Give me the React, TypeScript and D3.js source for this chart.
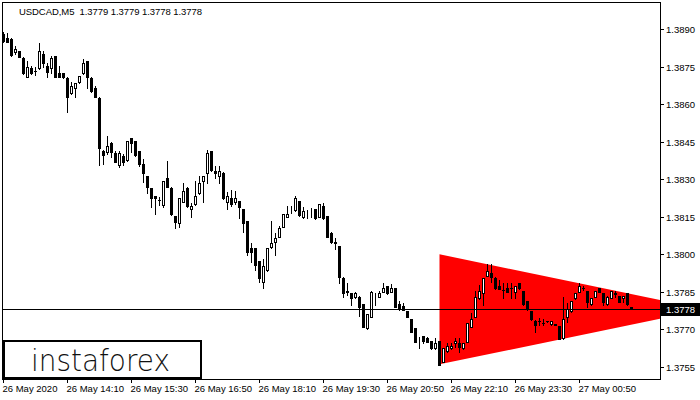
import React, { useEffect, useRef } from 'react';
import * as d3 from 'd3';

// USDCAD M5, 26 May 2020 12:50 onwards, one value per bar
const openPrices = [
  1.38881, 1.38865, 1.38863, 1.38811, 1.38813, 1.38787, 1.38711, 1.38747, 1.38733, 1.38744,
  1.38800, 1.38753, 1.38744, 1.38793, 1.38724, 1.38724, 1.38706, 1.38644, 1.38664, 1.38690,
  1.38724, 1.38773, 1.38706, 1.38666, 1.38626, 1.38413, 1.38410, 1.38446, 1.38404, 1.38357,
  1.38393, 1.38377, 1.38464, 1.38453, 1.38413, 1.38360, 1.38313, 1.38264, 1.38233, 1.38218,
  1.38197, 1.38306, 1.38266, 1.38153, 1.38124, 1.38210, 1.38266, 1.38180, 1.38200, 1.38244,
  1.38293, 1.38324, 1.38413, 1.38333, 1.38313, 1.38326, 1.38210, 1.38224, 1.38210, 1.38213,
  1.38180, 1.38133, 1.38024, 1.38025, 1.37973, 1.37890, 1.37937, 1.38030, 1.38050, 1.38070,
  1.38110, 1.38150, 1.38172, 1.38177, 1.38213, 1.38150, 1.38165, 1.38172, 1.38180, 1.38150,
  1.38193, 1.38153, 1.38086, 1.38048, 1.38033, 1.37906, 1.37852, 1.37844, 1.37830, 1.37830,
  1.37800, 1.37704, 1.37750, 1.37824, 1.37830, 1.37850, 1.37873, 1.37850, 1.37864, 1.37800,
  1.37793, 1.37773, 1.37740, 1.37704, 1.37664, 1.37673, 1.37664, 1.37653, 1.37624, 1.37653,
  1.37570, 1.37613, 1.37624, 1.37644, 1.37644, 1.37624, 1.37650, 1.37710, 1.37750, 1.37824,
  1.37844, 1.37913, 1.37926, 1.37906, 1.37873, 1.37858, 1.37866, 1.37865, 1.37850, 1.37884,
  1.37853, 1.37813, 1.37773, 1.37735, 1.37733, 1.37725, 1.37733, 1.37720, 1.37720, 1.37713,
  1.37664, 1.37750, 1.37772, 1.37824, 1.37850, 1.37865, 1.37853, 1.37800, 1.37830, 1.37865,
  1.37844, 1.37800, 1.37825, 1.37844, 1.37833, 1.37824, 1.37845, 1.37790,
];

const highPrices = [
  1.38889, 1.38885, 1.38865, 1.38833, 1.38815, 1.38789, 1.38773, 1.38753, 1.38751, 1.38844,
  1.38813, 1.38766, 1.38793, 1.38795, 1.38753, 1.38725, 1.38709, 1.38690, 1.38685, 1.38715,
  1.38780, 1.38775, 1.38709, 1.38673, 1.38629, 1.38417, 1.38473, 1.38449, 1.38413, 1.38413,
  1.38400, 1.38455, 1.38466, 1.38455, 1.38415, 1.38380, 1.38315, 1.38265, 1.38235, 1.38230,
  1.38295, 1.38373, 1.38269, 1.38155, 1.38225, 1.38286, 1.38269, 1.38206, 1.38293, 1.38313,
  1.38315, 1.38417, 1.38415, 1.38353, 1.38353, 1.38329, 1.38250, 1.38257, 1.38253, 1.38215,
  1.38181, 1.38135, 1.38044, 1.38027, 1.37975, 1.37980, 1.38025, 1.38133, 1.38085, 1.38113,
  1.38161, 1.38193, 1.38193, 1.38233, 1.38215, 1.38190, 1.38177, 1.38185, 1.38181, 1.38201,
  1.38204, 1.38155, 1.38089, 1.38064, 1.38035, 1.37909, 1.37884, 1.37845, 1.37850, 1.37833,
  1.37801, 1.37761, 1.37853, 1.37844, 1.37853, 1.37884, 1.37875, 1.37880, 1.37865, 1.37813,
  1.37806, 1.37775, 1.37741, 1.37705, 1.37670, 1.37675, 1.37670, 1.37655, 1.37666, 1.37655,
  1.37625, 1.37646, 1.37644, 1.37664, 1.37664, 1.37645, 1.37725, 1.37764, 1.37853, 1.37877,
  1.37905, 1.37960, 1.37960, 1.37908, 1.37897, 1.37884, 1.37886, 1.37886, 1.37875, 1.37885,
  1.37855, 1.37815, 1.37775, 1.37737, 1.37744, 1.37740, 1.37735, 1.37734, 1.37721, 1.37715,
  1.37829, 1.37804, 1.37815, 1.37845, 1.37884, 1.37873, 1.37855, 1.37825, 1.37855, 1.37867,
  1.37845, 1.37832, 1.37855, 1.37853, 1.37835, 1.37834, 1.37846, 1.37790,
];

const lowPrices = [
  1.38849, 1.38849, 1.38793, 1.38801, 1.38789, 1.38723, 1.38709, 1.38723, 1.38717, 1.38743,
  1.38750, 1.38710, 1.38724, 1.38709, 1.38709, 1.38704, 1.38570, 1.38641, 1.38630, 1.38687,
  1.38721, 1.38664, 1.38651, 1.38629, 1.38357, 1.38360, 1.38400, 1.38390, 1.38369, 1.38350,
  1.38357, 1.38375, 1.38410, 1.38395, 1.38353, 1.38290, 1.38244, 1.38190, 1.38160, 1.38197,
  1.38189, 1.38269, 1.38157, 1.38104, 1.38110, 1.38209, 1.38191, 1.38150, 1.38197, 1.38241,
  1.38210, 1.38284, 1.38335, 1.38306, 1.38284, 1.38221, 1.38180, 1.38193, 1.38200, 1.38144,
  1.38090, 1.37997, 1.37970, 1.37939, 1.37890, 1.37864, 1.37935, 1.38025, 1.37998, 1.38069,
  1.38109, 1.38149, 1.38167, 1.38175, 1.38155, 1.38144, 1.38144, 1.38150, 1.38142, 1.38149,
  1.38142, 1.38069, 1.38044, 1.38021, 1.37884, 1.37830, 1.37837, 1.37797, 1.37824, 1.37753,
  1.37709, 1.37702, 1.37749, 1.37797, 1.37829, 1.37849, 1.37842, 1.37849, 1.37789, 1.37777,
  1.37776, 1.37749, 1.37689, 1.37649, 1.37624, 1.37646, 1.37649, 1.37622, 1.37622, 1.37556,
  1.37569, 1.37611, 1.37622, 1.37630, 1.37610, 1.37622, 1.37649, 1.37709, 1.37749, 1.37822,
  1.37797, 1.37912, 1.37890, 1.37862, 1.37860, 1.37824, 1.37849, 1.37824, 1.37824, 1.37862,
  1.37798, 1.37778, 1.37738, 1.37690, 1.37717, 1.37717, 1.37730, 1.37718, 1.37717, 1.37661,
  1.37662, 1.37729, 1.37770, 1.37822, 1.37849, 1.37857, 1.37790, 1.37798, 1.37829, 1.37849,
  1.37797, 1.37798, 1.37824, 1.37830, 1.37809, 1.37810, 1.37798, 1.37780,
];

const closePrices = [
  1.38853, 1.38851, 1.38797, 1.38823, 1.38791, 1.38724, 1.38749, 1.38725, 1.38732, 1.38813,
  1.38764, 1.38730, 1.38786, 1.38710, 1.38710, 1.38710, 1.38630, 1.38673, 1.38684, 1.38713,
  1.38766, 1.38710, 1.38653, 1.38630, 1.38424, 1.38397, 1.38433, 1.38410, 1.38370, 1.38404,
  1.38370, 1.38453, 1.38444, 1.38397, 1.38360, 1.38324, 1.38269, 1.38224, 1.38224, 1.38216,
  1.38293, 1.38270, 1.38160, 1.38130, 1.38224, 1.38253, 1.38193, 1.38193, 1.38233, 1.38286,
  1.38313, 1.38404, 1.38337, 1.38324, 1.38333, 1.38224, 1.38233, 1.38200, 1.38224, 1.38190,
  1.38124, 1.38010, 1.38010, 1.37957, 1.37904, 1.37953, 1.38024, 1.38044, 1.38064, 1.38104,
  1.38160, 1.38160, 1.38173, 1.38224, 1.38157, 1.38173, 1.38166, 1.38173, 1.38144, 1.38200,
  1.38144, 1.38070, 1.38050, 1.38046, 1.37910, 1.37844, 1.37850, 1.37824, 1.37844, 1.37790,
  1.37710, 1.37760, 1.37850, 1.37825, 1.37844, 1.37864, 1.37844, 1.37864, 1.37790, 1.37786,
  1.37777, 1.37750, 1.37690, 1.37650, 1.37665, 1.37653, 1.37650, 1.37624, 1.37644, 1.37557,
  1.37624, 1.37633, 1.37633, 1.37653, 1.37630, 1.37644, 1.37724, 1.37740, 1.37830, 1.37853,
  1.37904, 1.37933, 1.37910, 1.37864, 1.37861, 1.37857, 1.37850, 1.37864, 1.37873, 1.37864,
  1.37800, 1.37780, 1.37740, 1.37718, 1.37732, 1.37724, 1.37732, 1.37733, 1.37718, 1.37663,
  1.37740, 1.37780, 1.37813, 1.37844, 1.37873, 1.37864, 1.37810, 1.37824, 1.37853, 1.37850,
  1.37810, 1.37830, 1.37853, 1.37843, 1.37810, 1.37833, 1.37800, 1.37780,
];

const priceTicks = [1.389, 1.3875, 1.386, 1.3845, 1.383, 1.3815, 1.38, 1.3785, 1.377, 1.3755];

const timeTickBars = [0, 16, 32, 48, 64, 80, 96, 112, 128, 144];
const timeTickLabels = [
  '26 May 2020', '26 May 14:10', '26 May 15:30', '26 May 16:50', '26 May 18:10',
  '26 May 19:30', '26 May 20:50', '26 May 22:10', '26 May 23:30', '27 May 00:50',
];

// symmetrical triangle pattern (bar index, price)
const triangleBars = [109, 109, 175.5];
const trianglePrices = [1.38, 1.3756, 1.3778];

const lastPrice = 1.3778;
const title = 'USDCAD,M5  1.3779 1.3779 1.3778 1.3778';

const W = 700;
const H = 400;
const font = '"Liberation Sans", Arial, sans-serif';

export default function App() {
  const svgRef = useRef<SVGSVGElement>(null);

  useEffect(() => {
    if (!svgRef.current) return;
    const svg = d3.select(svgRef.current);
    svg.selectAll('*').remove();

    const plot = { left: 2, top: 2, right: 660, bottom: 379 };

    // one bar every 4px
    const x = d3.scaleLinear().domain([0, 164]).range([3, 659]);
    const y = d3.scaleLinear().domain([1.3755, 1.389]).range([366.8, 29.3]);

    svg.append('rect').attr('width', W).attr('height', H).attr('fill', '#fff');

    svg.append('defs').append('clipPath').attr('id', 'plot-clip')
      .append('rect')
      .attr('x', plot.left + 1)
      .attr('y', plot.top + 1)
      .attr('width', plot.right - plot.left - 1)
      .attr('height', plot.bottom - plot.top - 1);

    const g = svg.append('g').attr('clip-path', 'url(#plot-clip)');

    // pattern triangle, behind the bars
    const triPts = triangleBars.map((b, i) => [x(b) + 0.5, y(trianglePrices[i])] as [number, number]);
    g.append('path')
      .attr('d', d3.line()(triPts) + 'Z')
      .attr('fill', '#ff0000');

    const bars = d3.range(openPrices.length).map(i => ({
      i,
      o: openPrices[i],
      h: highPrices[i],
      l: lowPrices[i],
      c: closePrices[i],
    }));

    // wicks
    g.selectAll('line.wick')
      .data(bars)
      .enter()
      .append('line')
      .attr('class', 'wick')
      .attr('x1', d => x(d.i) + 0.5)
      .attr('x2', d => x(d.i) + 0.5)
      .attr('y1', d => Math.round(y(d.h)))
      .attr('y2', d => Math.round(y(d.l)) + 1)
      .attr('stroke', '#000')
      .attr('shape-rendering', 'crispEdges');

    // bear bodies
    g.selectAll('rect.bear')
      .data(bars.filter(d => d.c < d.o))
      .enter()
      .append('rect')
      .attr('class', 'bear')
      .attr('x', d => x(d.i) - 1)
      .attr('y', d => Math.round(y(d.o)))
      .attr('width', 3)
      .attr('height', d => Math.max(1, Math.round(y(d.c)) - Math.round(y(d.o)) + 1))
      .attr('fill', '#000')
      .attr('shape-rendering', 'crispEdges');

    // bull bodies (white with outline)
    g.selectAll('rect.bull')
      .data(bars.filter(d => d.c >= d.o))
      .enter()
      .append('rect')
      .attr('class', 'bull')
      .attr('x', d => x(d.i) - 0.5)
      .attr('y', d => Math.round(y(d.c)) + 0.5)
      .attr('width', 2)
      .attr('height', d => Math.max(0, Math.round(y(d.o)) - Math.round(y(d.c))))
      .attr('fill', '#fff')
      .attr('stroke', '#000')
      .attr('shape-rendering', 'crispEdges');

    // last price line
    const yLast = Math.round(y(lastPrice)) + 0.5;
    svg.append('line')
      .attr('x1', plot.left).attr('x2', plot.right)
      .attr('y1', yLast).attr('y2', yLast)
      .attr('stroke', '#000')
      .attr('shape-rendering', 'crispEdges');

    // frame
    svg.append('rect')
      .attr('x', plot.left + 0.5)
      .attr('y', plot.top + 0.5)
      .attr('width', plot.right - plot.left)
      .attr('height', plot.bottom - plot.top)
      .attr('fill', 'none')
      .attr('stroke', '#000')
      .attr('shape-rendering', 'crispEdges');

    // price axis
    const py = svg.append('g');
    priceTicks.forEach(p => {
      const yy = Math.round(y(p)) + 0.5;
      py.append('line')
        .attr('x1', plot.right).attr('x2', plot.right + 4)
        .attr('y1', yy).attr('y2', yy)
        .attr('stroke', '#000')
        .attr('shape-rendering', 'crispEdges');
      py.append('text')
        .attr('x', plot.right + 6)
        .attr('y', yy)
        .attr('dy', '0.35em')
        .style('font-family', font)
        .style('font-size', '9.5px')
        .attr('fill', '#000')
        .text(d3.format('.4f')(p));
    });

    // last price tag
    svg.append('rect')
      .attr('x', plot.right + 1)
      .attr('y', yLast - 6.5)
      .attr('width', W - plot.right - 1)
      .attr('height', 13)
      .attr('fill', '#000');
    svg.append('text')
      .attr('x', plot.right + 6)
      .attr('y', yLast)
      .attr('dy', '0.35em')
      .style('font-family', font)
      .style('font-size', '9.5px')
      .attr('fill', '#fff')
      .text(d3.format('.4f')(lastPrice));

    // time axis
    const tx = svg.append('g');
    timeTickBars.forEach((b, k) => {
      const xx = x(b) + 0.5;
      tx.append('line')
        .attr('x1', xx).attr('x2', xx)
        .attr('y1', plot.bottom).attr('y2', plot.bottom + 4)
        .attr('stroke', '#000')
        .attr('shape-rendering', 'crispEdges');
      tx.append('text')
        .attr('x', xx - 1)
        .attr('y', 392)
        .style('font-family', font)
        .style('font-size', '9.5px')
        .attr('fill', '#000')
        .text(timeTickLabels[k]);
    });

    // title (keeps the double space)
    svg.append('text')
      .attr('x', 19)
      .attr('y', 15)
      .attr('textLength', 183)
      .attr('lengthAdjust', 'spacing')
      .style('white-space', 'pre')
      .style('font-family', font)
      .style('font-size', '9.5px')
      .attr('fill', '#000')
      .text(title);

    // logo box
    svg.append('rect')
      .attr('x', 4)
      .attr('y', 341)
      .attr('width', 197)
      .attr('height', 37)
      .attr('fill', '#fff')
      .attr('stroke', '#000')
      .attr('stroke-width', 2);
    svg.append('text')
      .attr('x', 31)
      .attr('y', 371)
      .attr('textLength', 139)
      .attr('lengthAdjust', 'spacingAndGlyphs')
      .style('font-family', '"DejaVu Sans", sans-serif')
      .style('font-weight', 200)
      .style('font-size', '31px')
      .attr('fill', '#111')
      .text('instaforex');
  }, []);

  return (
    <div style={{ position: 'fixed', left: 0, top: 0 }}>
      <svg ref={svgRef} width={W} height={H} style={{ display: 'block' }} />
    </div>
  );
}
